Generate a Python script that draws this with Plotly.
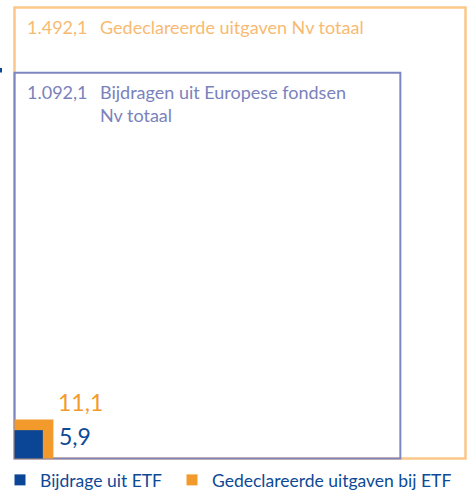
import math
import plotly.graph_objects as go

# ---- data ----
names = ["Gedeclareerde uitgaven Nv totaal",
         "Bijdragen uit Europese fondsen<br>Nv totaal",
         "Gedeclareerde uitgaven bij ETF",
         "Bijdrage uit ETF"]
values = [1492.1, 1092.1, 11.1, 5.9]
value_labels = ["1.492,1", "1.092,1", "11,1", "5,9"]
legend_names = ["Bijdrage uit ETF", "Gedeclareerde uitgaven bij ETF"]

# ---- styling ----
ORANGE_LINE = "#FCC78A"
BLUE_LINE = "#7E86C0"
ORANGE_FILL = "#F39A2C"
BLUE_FILL = "#0B4696"
ORANGE_TEXT = "#F8BA72"
BLUE_TEXT = "#7A82BC"
DARK_BLUE = "#0D4A96"
FONT = "Lato"

W, H = 467, 492
ox, oy = 14.5, 458.5               # pixel origin of the squares (bottom-left)
sides = [math.sqrt(v) for v in values]
k = 451.0 / sides[0]               # pixels per unit of sqrt(value)

def px(dx):
    return dx / k

fig = go.Figure()

shapes = []
# outlined totals
shapes.append(dict(type="rect", xref="x", yref="y", x0=0, y0=0, x1=sides[0], y1=sides[0],
                   line=dict(color=ORANGE_LINE, width=2.5), fillcolor="rgba(0,0,0,0)"))
shapes.append(dict(type="rect", xref="x", yref="y", x0=0, y0=0, x1=sides[1], y1=sides[1],
                   line=dict(color=BLUE_LINE, width=2), fillcolor="rgba(0,0,0,0)"))
# filled ETF squares
shapes.append(dict(type="rect", xref="x", yref="y", x0=0, y0=0, x1=sides[2], y1=sides[2],
                   line=dict(width=0), fillcolor=ORANGE_FILL))
shapes.append(dict(type="rect", xref="x", yref="y", x0=0, y0=0, x1=sides[3], y1=sides[3],
                   line=dict(width=0), fillcolor=BLUE_FILL))
# small fragment at left edge
shapes.append(dict(type="rect", xref="paper", yref="paper", x0=0, x1=2 / W,
                   y0=1 - 72.5 / H, y1=1 - 68 / H, line=dict(width=0), fillcolor=DARK_BLUE))

annotations = []
# outer total label
annotations.append(dict(x=px(10.5), y=sides[0] - px(19), xref="x", yref="y",
                        text=value_labels[0], showarrow=False, xanchor="left", yanchor="middle",
                        font=dict(family=FONT, size=18, color=ORANGE_TEXT)))
annotations.append(dict(x=px(83.5), y=sides[0] - px(19), xref="x", yref="y",
                        text=names[0], showarrow=False, xanchor="left", yanchor="middle",
                        font=dict(family=FONT, size=18, color=ORANGE_TEXT)))
# inner total label
annotations.append(dict(x=px(10.5), y=sides[1] - px(19), xref="x", yref="y",
                        text=value_labels[1], showarrow=False, xanchor="left", yanchor="middle",
                        font=dict(family=FONT, size=18, color=BLUE_TEXT)))
annotations.append(dict(x=px(83.5), y=sides[1] - px(31), xref="x", yref="y",
                        text=names[1], showarrow=False, xanchor="left", yanchor="middle",
                        align="left",
                        font=dict(family=FONT, size=18, color=BLUE_TEXT)))
# ETF value labels
annotations.append(dict(x=sides[2] + px(3), y=sides[2] + px(18), xref="x", yref="y",
                        text=value_labels[2], showarrow=False, xanchor="left", yanchor="middle",
                        font=dict(family=FONT, size=23, color=ORANGE_FILL)))
annotations.append(dict(x=sides[2] + px(4), y=sides[3] - px(6), xref="x", yref="y",
                        text=value_labels[3], showarrow=False, xanchor="left", yanchor="middle",
                        font=dict(family=FONT, size=23, color=DARK_BLUE)))

# legend entries (each in its own legend box so they can be placed independently)
for nm, col, lg in zip(legend_names, [BLUE_FILL, ORANGE_FILL], ["legend", "legend2"]):
    fig.add_trace(go.Scatter(x=[None], y=[None], mode="markers", name=nm, legend=lg,
                             marker=dict(symbol="square", size=11, color=col)))

legend_style = dict(orientation="h", y=1 - 462 / H, xanchor="left", yanchor="top",
                    font=dict(family=FONT, size=17.5, color=DARK_BLUE),
                    bgcolor="rgba(0,0,0,0)", borderwidth=0, itemclick=False)

fig.update_layout(
    width=W, height=H,
    margin=dict(l=0, r=0, t=0, b=0, autoexpand=False),
    paper_bgcolor="white", plot_bgcolor="white",
    xaxis=dict(range=[-px(ox), px(W - ox)], visible=False, fixedrange=True),
    yaxis=dict(range=[-px(H - oy), px(oy)], visible=False, fixedrange=True),
    shapes=shapes, annotations=annotations,
    showlegend=True,
    legend=dict(x=0, **legend_style),
    legend2=dict(x=172 / W, **legend_style),
)

fig.write_html("out.html", config={"displayModeBar": False, "staticPlot": True},
               post_script="document.body.style.margin='0';document.body.style.overflow='hidden';")
